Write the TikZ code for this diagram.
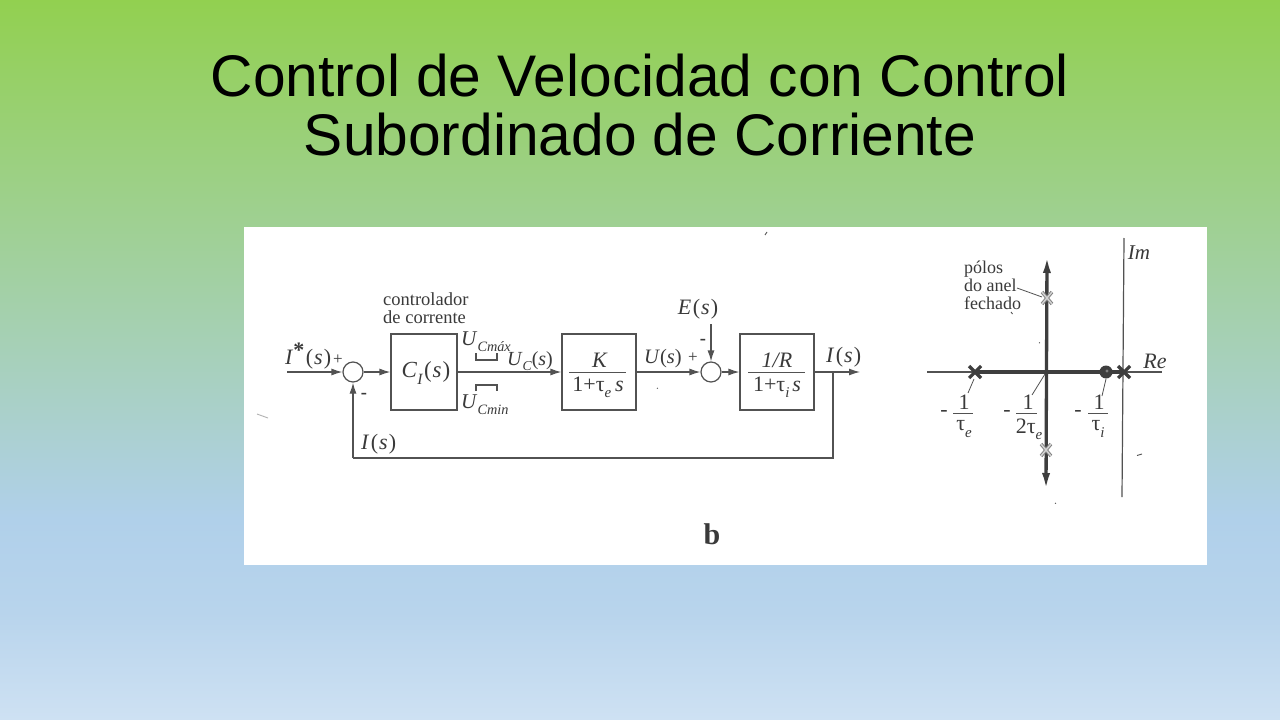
\documentclass[tikz,border=0pt]{standalone}
\usepackage{fontspec}
\setmainfont{Liberation Serif}
\newfontfamily\titlefont{Liberation Sans}
\usetikzlibrary{arrows.meta}
\definecolor{ink}{RGB}{82,82,82}
\definecolor{txt}{RGB}{58,58,58}
\definecolor{dk}{RGB}{62,62,62}
\definecolor{bgtop}{RGB}{146,208,80}
\definecolor{bgmid}{RGB}{176,208,234}
\definecolor{bgmid2}{RGB}{184,212,236}
\definecolor{bgbot}{RGB}{206,225,243}
\pgfdeclareverticalshading{slidebg}{100bp}{color(0bp)=(bgbot); color(25bp)=(bgbot); color(32.5bp)=(bgmid2); color(39bp)=(bgmid); color(75bp)=(bgtop); color(100bp)=(bgtop)}
\newcommand{\sz}[1]{\fontsize{#1}{#1}\selectfont}
\newcommand{\ofs}{\kern1.5pt(\kern1pt\textit{s}\kern1pt)}
\newcommand{\lowr}[1]{\raisebox{-0.28em}{\fontsize{0.68em}{0.68em}\selectfont\itshape #1}}
\tikzset{
  x=1pt,y=-1pt,
  conn/.style={draw=ink,line width=1.2pt},
  flow/.style={conn,-{Latex[length=11pt,width=7pt]}},
  blockbox/.style={draw=ink,line width=1.2pt,minimum width=66pt,minimum height=76pt,inner sep=0pt,text=txt,font=\sz{23}},
  sumj/.style={circle,draw=ink,line width=1.2pt,minimum size=20pt,inner sep=0pt},
  lbl/.style={text=txt,inner sep=0pt,font=\sz{22}},
  small/.style={text=txt,inner sep=0pt,font=\sz{18.5}},
  rulebar/.style={draw=ink,line width=1pt},
  lead/.style={draw=ink,line width=0.8pt},
  sat/.style={draw=ink,line width=2.4pt},
  axis/.style={draw=ink,line width=1.2pt},
  heavy/.style={draw=dk,line width=3.3pt},
  speck/.style={draw=ink,line width=0.9pt},
}
\begin{document}
\begin{tikzpicture}
\useasboundingbox (0,0) rectangle (1280,720);
\shade[shading=slidebg] (0,0) rectangle (1280,720);
\node[font=\titlefont\sz{58.7},text=black,align=center,inner sep=0pt,anchor=center] (title) at (640,105)
  {\baselineskip=62pt Control de Velocidad con Control\\Subordinado de Corriente};
\fill[white] (244,227) rectangle (1207,565);

% block diagram
\coordinate (in) at (287,372);
\node[sumj] (s1) at (353,372) {};
\node[blockbox,xshift=2pt,yshift=0pt,minimum width=0pt,minimum height=0pt,draw=none] (ctext) at (424,373) {\textit{C}\lowr{I}\ofs};
\node[blockbox] (c) at (424,372) {};
\node[blockbox,minimum width=74pt] (k) at (599,372) {};
\node[sumj] (s2) at (711,372) {};
\node[blockbox,minimum width=74pt] (r) at (777,372) {};
\coordinate (out) at (860,372);
\coordinate (br) at (833,372);
\coordinate (fb) at (833,458);
\coordinate (fb2) at (353,458);
\coordinate (e) at (711,324);
\draw[flow] (in) -- (s1);
\draw[flow] (s1) -- (c);
\draw[flow] (c) -- (k);
\draw[flow] (k) -- (s2);
\draw[flow] (s2) -- (r);
\draw[flow] (r) -- (out);
\draw[flow] (e) -- (s2);
\draw[conn] (br) -- (fb) -- (fb2);
\draw[flow] (fb2) -- (s1);

\draw[rulebar] (569,372) -- (626,372);
\draw[rulebar] (748,372) -- (805,372);
\node[lbl] (kn) at (600,360.5) {\textit{K}};
\node[lbl] (kd) at (598,387.5) {1+τ\lowr{e}\,\textit{s}};
\node[lbl] (rn) at (777,360.5) {\textit{1/R}};
\node[lbl] (rd) at (777,387.5) {1+τ\lowr{i}\kern3pt\textit{s}};

% saturation marks
\draw[sat] (476,353) -- (476,360) -- (497,360) -- (497,353);
\draw[sat] (476,391) -- (476,385) -- (497,385) -- (497,391);

% labels
\node[lbl,anchor=west] (istar) at (285,356) {\textit{I}\raisebox{0.3em}{\textbf{*}}\ofs};
\node[small,font=\sz{17}] (p1) at (338,360) {+};
\node[small] (m1) at (364,396) {\textbf{-}};
\node[small,anchor=west,align=left] (ctl) at (383,308) {\baselineskip=19pt controlador\\de corrente};
\node[lbl,anchor=west,font=\sz{21}] (umax) at (461,341.5) {\textit{U}\lowr{Cmáx}};
\node[lbl,anchor=west,font=\sz{21}] (umin) at (461,405) {\textit{U}\lowr{Cmin}};
\node[lbl,anchor=west,font=\sz{20}] (uc) at (507,361) {\textit{U}\lowr{C}(\textit{s})};
\node[lbl,anchor=west,font=\sz{20.5}] (us) at (644,359) {\textit{U}(\textit{s})};
\node[small,font=\sz{17}] (p2) at (693,358) {+};
\node[small] (m2) at (703,342) {\textbf{-}};
\node[lbl] (es) at (698,309) {\textit{E}\ofs};
\node[lbl,anchor=west] (is1) at (826,357) {\textit{I}\ofs};
\node[lbl,anchor=west] (is2) at (361,444) {\textit{I}\ofs};
\node[text=txt,inner sep=0pt,font=\bfseries\sz{30}] (b) at (712,534) {b};

% root locus
\draw[axis] (1124,238) -- (1122,497);
\draw[axis] (927,372) -- (1162,372);
\draw[heavy] (975,372) -- (1125,372);
\coordinate (vtop) at (1047,255);
\coordinate (vbot) at (1046,491);
\draw[heavy,-{Latex[length=18pt,width=8pt]}] (1046.5,372) -- (vtop);
\draw[heavy,-{Latex[length=18pt,width=8pt]}] (1046.5,372) -- (vbot);

\foreach \px/\py in {975/372,1124/372}{
  \draw[dk,line width=3.2pt] (\px-6,\py-6) -- (\px+6,\py+6) (\px-6,\py+6) -- (\px+6,\py-6);
}
\foreach \px/\py in {1047/298,1046/450}{
  \draw[gray,line width=3.4pt] (\px-5,\py-6) -- (\px+5,\py+6) (\px-5,\py+6) -- (\px+5,\py-6);
  \draw[gray!35,line width=1.5pt] (\px-5,\py-6) -- (\px+5,\py+6) (\px-5,\py+6) -- (\px+5,\py-6);
}
\fill[dk] (1106,372) circle (6.5);
\fill[gray] (1107,371) circle (1.6);

\node[small,anchor=west,align=left,font=\sz{18}] (polos) at (964,285) {\baselineskip=17.5pt pólos\\do anel\\fechado};
\draw[lead] (1017,288) -- (1042,297);
\draw[lead] (974,379) -- (968,393);
\draw[lead] (1045,374) -- (1032,395);
\draw[lead] (1106,379) -- (1102,396);

\node[small,font=\sz{21}] (im) at (1139,253) {\textit{Im}};
\node[small,font=\sz{22}] (re) at (1155,361) {\textit{Re}};

\node[lbl] (m3) at (944,413) {-};
\node[lbl] (n3) at (964,402) {1};
\draw[rulebar] (953,413) -- (973,413);
\node[lbl] (d3) at (964,429) {τ\lowr{e}};
\node[lbl] (m4) at (1007,413) {-};
\node[lbl] (n4) at (1028,402) {1};
\draw[rulebar] (1016,413) -- (1037,413);
\node[lbl] (d4) at (1029,429) {2τ\lowr{e}};
\node[lbl] (m5) at (1078,413) {-};
\node[lbl] (n5) at (1099,402) {1};
\draw[rulebar] (1088,413) -- (1108,413);
\node[lbl] (d5) at (1098,429) {τ\lowr{i}};

% scan specks
\draw[speck] (657,388) -- (657.8,388.6);
\draw[speck] (765,235) -- (767,232);
\draw[speck] (1137,455.5) -- (1142,454);
\draw[speck,gray!60] (257,414) -- (268,418);
\draw[speck] (1011,312) -- (1012.5,314);
\draw[speck] (1039,342.6) -- (1040,343);
\draw[speck] (1055,503) -- (1056,503.6);
\end{tikzpicture}
\end{document}
